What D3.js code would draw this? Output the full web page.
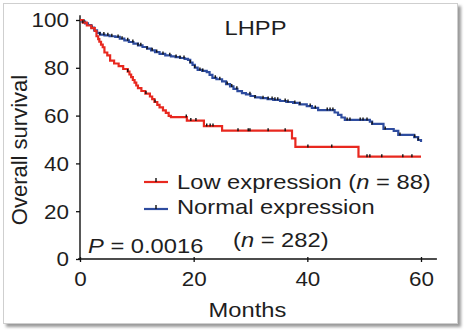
<!DOCTYPE html>
<html>
<head>
<meta charset="utf-8">
<script src="https://cdn.jsdelivr.net/npm/d3@7"></script>
<style>
  html, body { margin: 0; padding: 0; background: #fff; }
  svg { display: block; }
  text { font-family: "Liberation Sans", Arial, Helvetica, sans-serif; fill: #1e1e1e; }
</style>
</head>
<body>
<svg id="chart" width="466" height="334"></svg>
<script>
// Kaplan-Meier steps: [month, % surviving]
const lowSteps = [
  [0, 100], [0.5, 98.9], [1.2, 97.7], [2.0, 96.6], [2.6, 95.4], [2.9, 93.2],
  [3.2, 92.0], [3.4, 90.9], [3.7, 89.7], [4.0, 88.6], [4.3, 86.4], [4.8, 85.2],
  [5.3, 83.0], [6.0, 81.8], [6.8, 80.7], [7.6, 79.5], [8.4, 78.4], [8.7, 77.2],
  [9.0, 76.1], [9.3, 74.9], [9.6, 73.8], [9.9, 72.6], [10.2, 71.5], [10.8, 70.3],
  [11.5, 69.2], [12.3, 68.0], [12.7, 66.9], [13.1, 65.7], [13.6, 64.5], [14.0, 63.4],
  [14.6, 62.2], [15.1, 61.1], [15.6, 59.9], [16.0, 59.4], [18.8, 57.9], [21.8, 55.6],
  [25.0, 53.7], [37.3, 50.5], [37.9, 46.9], [49.0, 42.8], [60.0, 42.8]
];
const normalSteps = [
  [0, 100], [0.4, 99.3], [0.9, 98.6], [1.4, 97.9], [2.0, 96.8], [2.5, 95.7],
  [3.0, 94.6], [3.5, 93.9], [4.3, 93.6], [5.2, 93.2], [6.2, 92.9], [7.0, 92.2],
  [7.8, 91.5], [8.6, 90.8], [9.4, 90.1], [10.2, 89.4], [11.0, 88.7], [11.8, 88.0],
  [12.5, 87.3], [13.2, 86.6], [14.0, 85.8], [15.0, 85.2], [16.0, 84.8], [16.8, 84.5],
  [17.6, 84.1], [18.4, 83.7], [19.0, 83.3], [19.4, 82.2], [19.8, 81.2], [20.2, 80.1],
  [20.7, 79.1], [21.5, 78.7], [22.3, 78.2], [22.8, 77.0], [23.3, 75.8], [24.0, 75.2],
  [25.0, 74.3], [25.7, 73.2], [26.4, 72.2], [27.0, 71.2], [27.7, 70.2], [28.5, 69.4],
  [29.2, 68.9], [30.0, 68.2], [30.8, 67.6], [31.8, 67.3], [33.0, 66.9], [34.0, 66.6],
  [35.2, 66.1], [36.3, 65.7], [37.5, 65.3], [38.6, 64.7], [39.9, 64.0], [40.8, 63.2],
  [41.9, 62.3], [44.8, 61.3], [45.4, 60.3], [46.0, 59.2], [46.6, 58.2], [51.0, 57.5],
  [51.4, 56.5], [53.4, 54.4], [55.2, 53.6], [56.0, 51.9], [58.8, 51.0], [59.5, 49.8],
  [60.0, 49.0]
];
// censored patients (months)
const lowCensored = [0.5, 8.4, 11.6, 13.2, 18.7, 19.5, 20.4, 22.3, 22.9, 23.4, 27.8,
  29.6, 29.9, 33.1, 36.1, 40.1, 44.3, 50.5, 51.0, 53.1, 56.8, 58.4];
const normalCensored = [0.7, 2.1, 3.5, 4.2, 4.9, 5.6, 6.7, 7.4, 8.4, 9.3, 10.2, 10.7,
  11.8, 12.7, 13.5, 14.6, 15.8, 16.9, 17.6, 18.3, 19.4, 20.2, 21.1, 21.6, 23.8, 24.6,
  25.9, 26.7, 27.6, 29.9, 30.8, 32.2, 33.1, 33.8, 34.3, 34.8, 36.1, 36.6, 37.8, 38.7,
  40.5, 41.4, 43.5, 44.0, 44.5, 47.0, 47.5, 49.3, 49.8, 50.5, 51.4, 53.7, 56.3, 58.9, 59.5];

const xTicks = [0, 20, 40, 60];
const yTicks = [0, 20, 40, 60, 80, 100];

const legendItems = [
  { name: "Low expression", n: "88", color: "#e8281f" },
  { name: "Normal expression", n: "282", color: "#2e4c9f" }
];

const svg = d3.select("#chart");
const stretch = 1.13; // text in the picture is a bit wide
const tickStretch = 1.15;

// shadowed frame
const defs = svg.append("defs");
const blur = defs.append("filter").attr("id", "shadow")
    .attr("x", "-5%").attr("y", "-5%").attr("width", "115%").attr("height", "115%");
blur.append("feGaussianBlur").attr("stdDeviation", 1.6);

svg.append("rect")
    .attr("x", 6).attr("y", 6).attr("width", 455).attr("height", 321)
    .attr("fill", "#9a9a9a")
    .attr("filter", "url(#shadow)");
svg.append("rect")
    .attr("x", 3.5).attr("y", 3.5).attr("width", 454).attr("height", 320)
    .attr("fill", "#fff")
    .attr("stroke", "#cfcfcf");

const x = d3.scaleLinear().domain([0, 60]).range([80, 421]);
const y = d3.scaleLinear().domain([0, 100]).range([259, 20]);

// axes
const yAxis = svg.append("g")
    .attr("transform", "translate(80,0)")
    .call(d3.axisLeft(y).tickValues(yTicks).tickSize(4).tickPadding(7));
yAxis.attr("font-size", null).attr("font-family", null);
yAxis.select(".domain").remove();
yAxis.selectAll("line").attr("stroke", "#111").attr("stroke-width", 1.3);
yAxis.selectAll("text")
    .style("font-size", "19.5px")
    .attr("x", -11 / tickStretch)
    .attr("dy", "0.35em")
    .attr("transform", "scale(" + tickStretch + ",1)");
yAxis.append("line")
    .attr("x1", 0).attr("x2", 0)
    .attr("y1", y(0)).attr("y2", y(102))
    .attr("stroke", "#111").attr("stroke-width", 1.4);

const xAxis = svg.append("g")
    .attr("transform", "translate(0," + y(0) + ")")
    .call(d3.axisBottom(x).tickValues(xTicks).tickSize(3));
xAxis.attr("font-size", null).attr("font-family", null);
xAxis.select(".domain").remove();
xAxis.selectAll("line").attr("y1", -2).attr("y2", 3)
    .attr("stroke", "#111").attr("stroke-width", 1.3);
xAxis.selectAll("text")
    .style("font-size", "19.5px")
    .attr("y", 27.5).attr("dy", null)
    .attr("transform", "scale(" + tickStretch + ",1)");
xAxis.append("line")
    .attr("x1", x(0) - 2).attr("x2", x(62.8))
    .attr("y1", 0).attr("y2", 0)
    .attr("stroke", "#111").attr("stroke-width", 1.4);

// curves
const line = d3.line()
    .x(function(d) { return x(d[0]); })
    .y(function(d) { return y(d[1]); })
    .curve(d3.curveStepAfter);

const bis = d3.bisector(function(d) { return d[0]; }).right;
function survAt(steps, m) { return steps[Math.max(0, bis(steps, m) - 1)][1]; }

const series = [
  { steps: normalSteps, censored: normalCensored, color: legendItems[1].color },
  { steps: lowSteps, censored: lowCensored, color: legendItems[0].color }
];

series.forEach(function(s) {
    svg.append("path")
        .datum(s.steps)
        .attr("d", line)
        .attr("fill", "none")
        .attr("stroke", s.color)
        .attr("stroke-width", 2.2);
    svg.append("g").selectAll("line")
        .data(s.censored)
        .enter().append("line")
            .attr("x1", function(d) { return x(d); })
            .attr("x2", function(d) { return x(d); })
            .attr("y1", function(d) { return y(survAt(s.steps, d)) - 2.5; })
            .attr("y2", function(d) { return y(survAt(s.steps, d)) + 0.5; })
            .attr("stroke", "#111")
            .attr("stroke-width", 1.4);
});

// helper for horizontally stretched text
function label(txt, px, py, size, anchor) {
    return svg.append("text")
        .attr("transform", "translate(" + px + "," + py + ") scale(" + stretch + ",1)")
        .style("font-size", size + "px")
        .attr("text-anchor", anchor || "start")
        .text(txt);
}

label("LHPP", 255.5, 35, 21, "middle");
label("Months", 247.5, 316.5, 21, "middle");

svg.append("text")
    .attr("transform", "translate(26.5,150) rotate(-90)")
    .style("font-size", "22px")
    .attr("text-anchor", "middle")
    .text("Overall survival");

// legend
const legY = [182, 209];
const legTextY = [189, 214];
legendItems.forEach(function(d, i) {
    svg.append("line")
        .attr("x1", 144).attr("x2", 168)
        .attr("y1", legY[i]).attr("y2", legY[i])
        .attr("stroke", d.color).attr("stroke-width", 2.2);
    svg.append("line")
        .attr("x1", 156).attr("x2", 156)
        .attr("y1", legY[i] - 4).attr("y2", legY[i])
        .attr("stroke", "#111").attr("stroke-width", 1.4);
});

const t1 = label("", 177, legTextY[0], 21);
t1.append("tspan").text(legendItems[0].name + " (");
t1.append("tspan").attr("font-style", "italic").text("n");
t1.append("tspan").text(" = " + legendItems[0].n + ")");

label(legendItems[1].name, 177, legTextY[1], 21);
const t2 = label("", 233, 246.5, 21);
t2.append("tspan").text("(");
t2.append("tspan").attr("font-style", "italic").text("n");
t2.append("tspan").text(" = " + legendItems[1].n + ")");

const pt = label("", 88, 252.5, 21);
pt.append("tspan").attr("font-style", "italic").text("P");
pt.append("tspan").text(" = 0.0016");
</script>
</body>
</html>
